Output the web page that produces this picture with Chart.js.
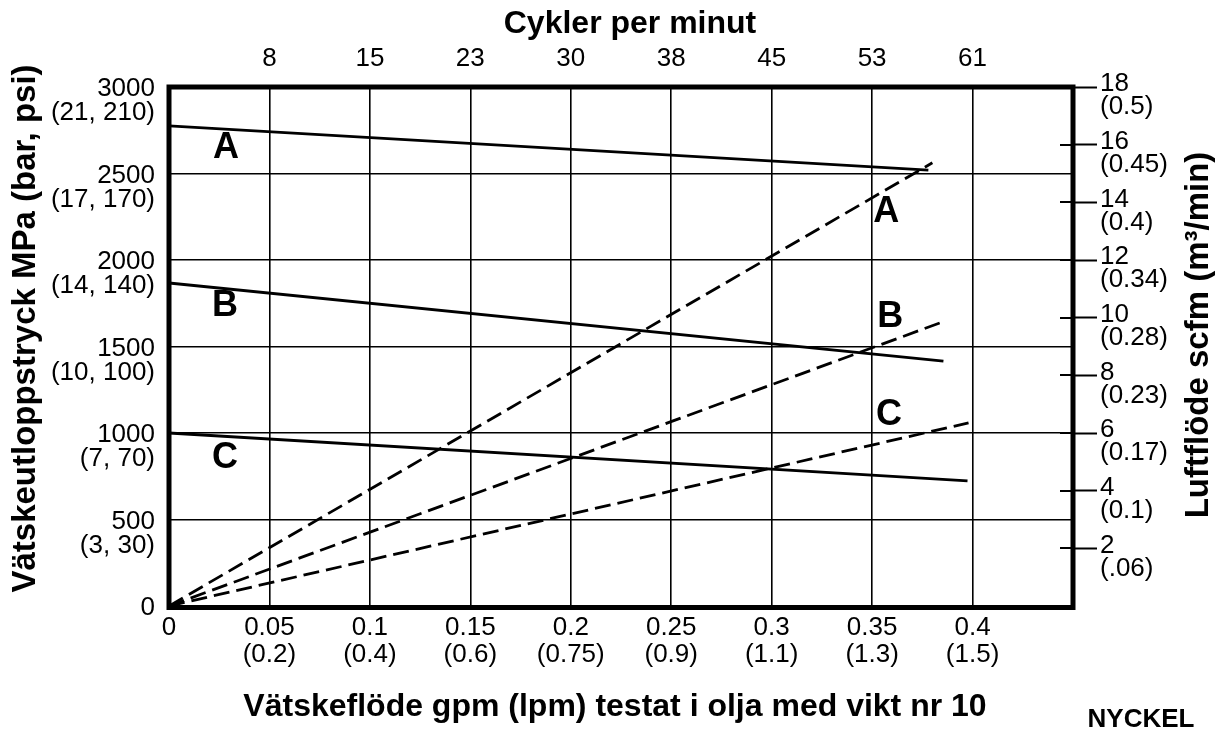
<!DOCTYPE html>
<html lang="sv">
<head>
<meta charset="utf-8">
<title>Vätskeutloppstryck och luftflöde</title>
<script src="https://cdn.jsdelivr.net/npm/chart.js@4.4.1/dist/chart.umd.min.js"></script>
<style>
  html, body { margin: 0; padding: 0; background: #fff; }
  #wrap { width: 1221px; height: 731px; }
</style>
</head>
<body>
<div id="wrap"><canvas id="chart" width="1221" height="731"></canvas></div>
<script>
// Axis ticks and their secondary unit labels
const flowTicks = [0, 0.05, 0.1, 0.15, 0.2, 0.25, 0.3, 0.35, 0.4];
const flowLpm = ['', '(0.2)', '(0.4)', '(0.6)', '(0.75)', '(0.9)', '(1.1)', '(1.3)', '(1.5)'];
const cycleTicks = [0.05, 0.1, 0.15, 0.2, 0.25, 0.3, 0.35, 0.4];
const cycleLabels = ['8', '15', '23', '30', '38', '45', '53', '61'];
const pressureTicks = [0, 500, 1000, 1500, 2000, 2500, 3000];
const pressureBarMpa = ['', '(3, 30)', '(7, 70)', '(10, 100)', '(14, 140)', '(17, 170)', '(21, 210)'];
const airTicks = [2, 4, 6, 8, 10, 12, 14, 16, 18];
const airM3 = ['(.06)', '(0.1)', '(0.17)', '(0.23)', '(0.28)', '(0.34)', '(0.4)', '(0.45)', '(0.5)'];

// Fluid outlet pressure (psi) against fluid flow (gpm)
const pressureFlowA = [0, 0.378];
const pressureA = [2775, 2520];
const pressureFlowB = [0, 0.3855];
const pressureB = [1867, 1416];
const pressureFlowC = [0, 0.3975];
const pressureC = [1000, 723];

// Air consumption (scfm) against fluid flow (gpm)
const airFlowA = [0, 0.380];
const airA = [0, 15.37];
const airFlowB = [0, 0.385];
const airB = [0, 9.85];
const airFlowC = [0, 0.398];
const airC = [0, 6.35];

const FAMILY = "'Liberation Sans', Arial, Helvetica, sans-serif";
Chart.defaults.font.family = FAMILY;
Chart.defaults.color = '#000';

const toPoints = (xs, ys) => xs.map((x, i) => ({ x, y: ys[i] }));
const setTicks = values => scale => { scale.ticks = values.map(v => ({ value: v })); };
const clear = 'rgba(0,0,0,0)';

const pressureLine = (label, xs, ys) => ({
  label, data: toPoints(xs, ys), yAxisID: 'y', xAxisID: 'x',
  borderColor: '#000', borderWidth: 2.8, pointRadius: 0, tension: 0, fill: false
});
const airLine = (label, xs, ys) => ({
  label, data: toPoints(xs, ys), yAxisID: 'y2', xAxisID: 'x',
  borderColor: '#000', borderWidth: 2.8, borderDash: [16, 7], pointRadius: 0, tension: 0, fill: false
});

// Heavy frame around the plotting area, with short inner stubs for the air-flow ticks
const framePlugin = {
  id: 'frame',
  afterDatasetsDraw(chart) {
    const { ctx, chartArea: a, scales } = chart;
    ctx.save();
    ctx.strokeStyle = '#000';
    ctx.lineWidth = 2;
    ctx.beginPath();
    scales.y2.ticks.forEach(t => {
      const py = Math.round(scales.y2.getPixelForValue(t.value));
      ctx.moveTo(a.right - 13, py);
      ctx.lineTo(a.right, py);
    });
    ctx.stroke();
    ctx.lineWidth = 5;
    ctx.strokeRect(a.left, a.top, a.right - a.left, a.bottom - a.top + 1.5);
    ctx.restore();
  }
};

// Curve letters placed in data units
const lettersPlugin = {
  id: 'curveLetters',
  afterDatasetsDraw(chart, args, opts) {
    const { ctx, scales } = chart;
    ctx.save();
    ctx.font = `bold ${opts.size}px ${FAMILY}`;
    ctx.fillStyle = '#000';
    ctx.textAlign = 'center';
    ctx.textBaseline = 'middle';
    opts.items.forEach(it => {
      ctx.fillText(it.text, scales.x.getPixelForValue(it.x), scales[it.axis].getPixelForValue(it.y));
    });
    ctx.restore();
  }
};

// Axis titles and the key caption
const titlesPlugin = {
  id: 'axisTitles',
  afterDraw(chart, args, opts) {
    const { ctx } = chart;
    ctx.save();
    ctx.fillStyle = '#000';
    ctx.textBaseline = 'alphabetic';
    opts.items.forEach(t => {
      ctx.save();
      ctx.font = `bold ${t.size}px ${FAMILY}`;
      ctx.textAlign = 'center';
      ctx.translate(t.x, t.y);
      if (t.rotate) ctx.rotate(t.rotate);
      ctx.fillText(t.text, 0, 0);
      ctx.restore();
    });
    ctx.restore();
  }
};

new Chart(document.getElementById('chart'), {
  type: 'line',
  data: {
    datasets: [
      pressureLine('A', pressureFlowA, pressureA),
      pressureLine('B', pressureFlowB, pressureB),
      pressureLine('C', pressureFlowC, pressureC),
      airLine('A luft', airFlowA, airA),
      airLine('B luft', airFlowB, airB),
      airLine('C luft', airFlowC, airC)
    ]
  },
  options: {
    responsive: false,
    animation: false,
    layout: { padding: 0 },
    plugins: {
      legend: { display: false },
      tooltip: { enabled: false },
      curveLetters: {
        size: 36,
        items: [
          { text: 'A', x: 0.0284, y: 2647, axis: 'y' },
          { text: 'B', x: 0.0279, y: 1734, axis: 'y' },
          { text: 'C', x: 0.0279, y: 855, axis: 'y' },
          { text: 'A', x: 0.357, y: 13.66, axis: 'y2' },
          { text: 'B', x: 0.359, y: 10.02, axis: 'y2' },
          { text: 'C', x: 0.3584, y: 6.62, axis: 'y2' }
        ]
      },
      axisTitles: {
        items: [
          { text: 'Cykler per minut', x: 630, y: 33, size: 32 },
          { text: 'Vätskeflöde gpm (lpm) testat i olja med vikt nr 10', x: 615, y: 716, size: 32 },
          { text: 'NYCKEL', x: 1141, y: 727, size: 26 },
          { text: 'Vätskeutloppstryck MPa (bar, psi)', x: 35, y: 328.5, size: 33, rotate: -Math.PI / 2 },
          { text: 'Luftflöde scfm (m³/min)', x: 1208, y: 335, size: 33, rotate: -Math.PI / 2 }
        ]
      }
    },
    scales: {
      x: {
        type: 'linear', position: 'bottom', min: 0, max: 0.45,
        afterBuildTicks: setTicks(flowTicks),
        afterFit: s => { s.height = 125; },
        border: { display: false },
        grid: {
          drawTicks: false, lineWidth: 1.6,
          color: c => (c.tick && c.tick.value === 0 ? clear : '#000')
        },
        ticks: {
          autoSkip: false, maxRotation: 0, padding: 8,
          font: { size: 26, lineHeight: 1.05 },
          callback: v => {
            const i = flowTicks.indexOf(v);
            return i === 0 ? '0' : [String(v), flowLpm[i]];
          }
        }
      },
      x2: {
        type: 'linear', position: 'top', min: 0, max: 0.45,
        afterBuildTicks: setTicks(cycleTicks),
        afterFit: s => { s.height = 87; },
        border: { display: false },
        grid: { display: false, drawTicks: false },
        ticks: {
          autoSkip: false, maxRotation: 0, padding: 15.5,
          font: { size: 26, lineHeight: 1.0 },
          callback: v => cycleLabels[cycleTicks.indexOf(v)]
        }
      },
      y: {
        type: 'linear', position: 'left', min: 0, max: 3000,
        afterBuildTicks: setTicks(pressureTicks),
        afterFit: s => { s.width = 169; },
        border: { display: false },
        grid: {
          drawTicks: false, lineWidth: 1.6,
          color: c => (c.tick && (c.tick.value === 0 || c.tick.value === 3000) ? clear : '#000')
        },
        ticks: {
          autoSkip: false, padding: 14, labelOffset: 14,
          font: { size: 26, lineHeight: 0.92 },
          callback: v => {
            const i = pressureTicks.indexOf(v);
            return [String(v), pressureBarMpa[i]];
          }
        }
      },
      y2: {
        type: 'linear', position: 'right', min: 0, max: 18,
        afterBuildTicks: setTicks(airTicks),
        afterFit: s => { s.width = 148; },
        border: { display: false },
        grid: {
          drawOnChartArea: false,
          drawTicks: true, tickLength: 24, tickWidth: 2, tickColor: '#000'
        },
        ticks: {
          autoSkip: false, padding: 3, labelOffset: 8.5,
          font: { size: 26, lineHeight: 0.885 },
          callback: v => [String(v), airM3[airTicks.indexOf(v)]]
        }
      }
    }
  },
  plugins: [framePlugin, lettersPlugin, titlesPlugin]
});
</script>
</body>
</html>
